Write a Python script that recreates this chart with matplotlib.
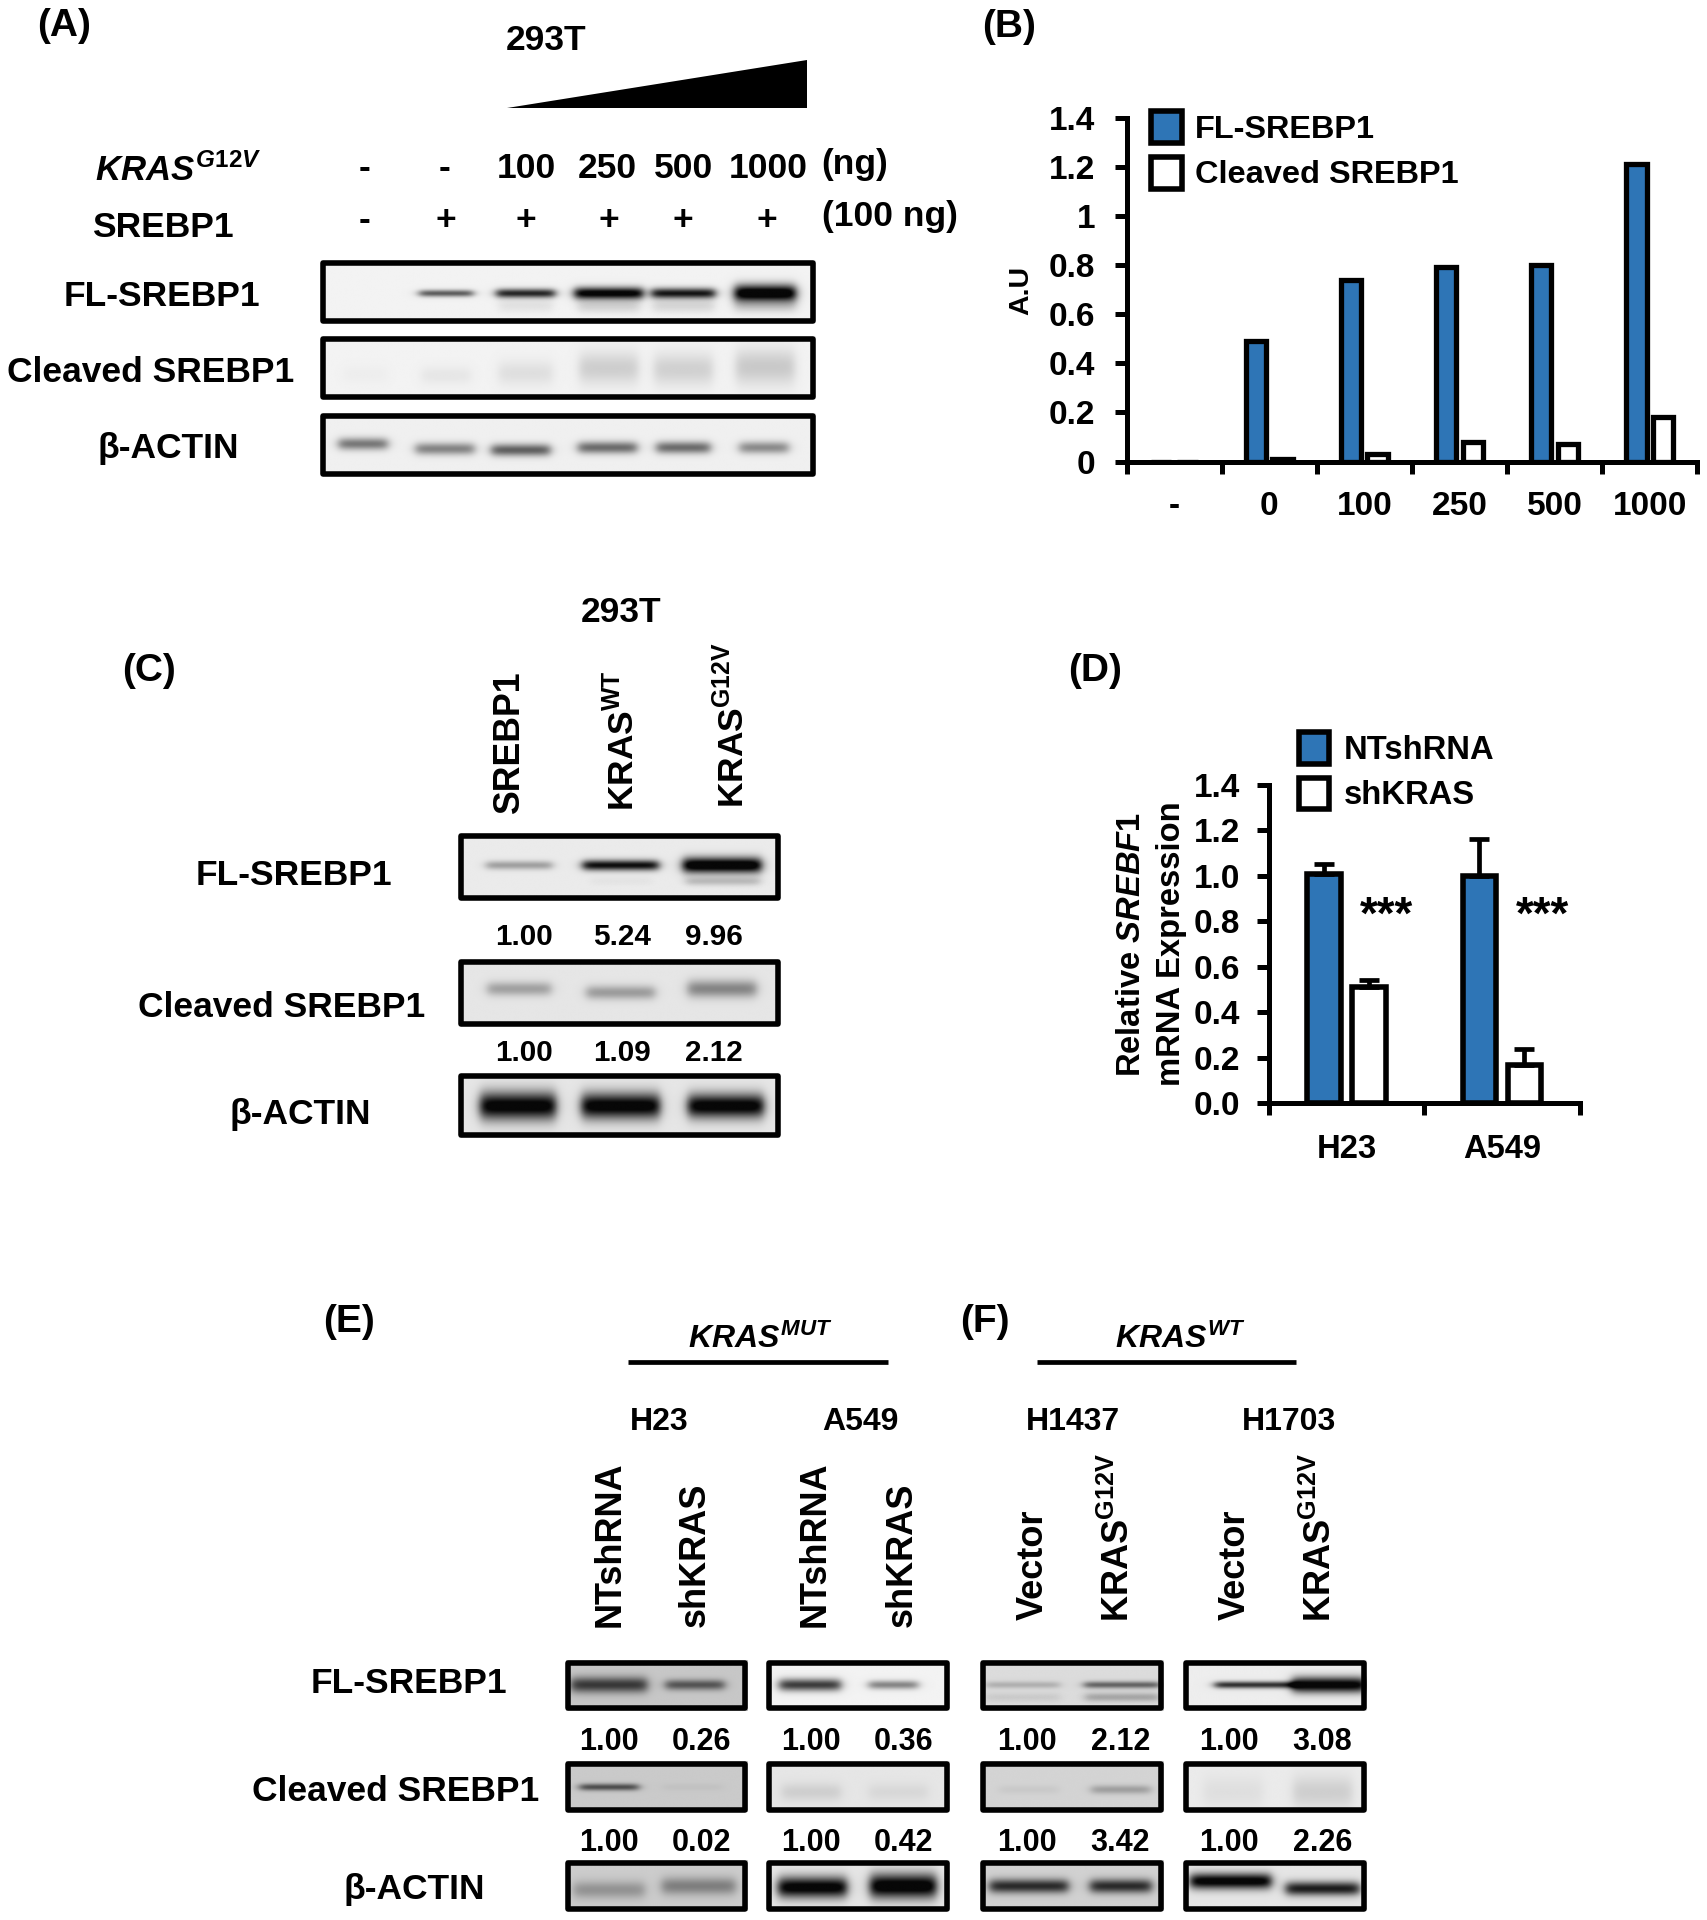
import matplotlib
matplotlib.use("Agg")
import matplotlib.pyplot as plt
import numpy as np
from matplotlib.patches import Polygon, Rectangle

plt.rcParams["font.family"] = ["Liberation Sans", "DejaVu Sans"]
plt.rcParams["font.weight"] = "bold"
plt.rcParams["mathtext.fontset"] = "custom"
plt.rcParams["mathtext.rm"] = "Liberation Sans:bold"
plt.rcParams["mathtext.it"] = "Liberation Sans:bold:italic"
plt.rcParams["mathtext.default"] = "regular"

BLUE = "#2e75b6"

# panel B
b_doses = ["-", "0", "100", "250", "500", "1000"]
b_fl = [0.0, 0.49, 0.74, 0.79, 0.80, 1.21]
b_cleaved = [0.0, 0.01, 0.03, 0.08, 0.07, 0.18]
b_yticks = [0, 0.2, 0.4, 0.6, 0.8, 1, 1.2, 1.4]

# panel D
d_lines = ["H23", "A549"]
d_nt = [1.01, 1.00]
d_sh = [0.51, 0.17]
d_nt_err = [0.04, 0.16]
d_sh_err = [0.03, 0.07]
d_yticks = [0.0, 0.2, 0.4, 0.6, 0.8, 1.0, 1.2, 1.4]

# blot band densities, one per lane
a_fl_density = [0.0, 0.62, 0.85, 1.05, 0.92, 1.15]
a_fl_lower = [0.0, 0.0, 0.07, 0.14, 0.12, 0.16]
a_cleaved_density = [0.02, 0.05, 0.08, 0.15, 0.14, 0.17]
a_actin_density = [0.5, 0.45, 0.6, 0.55, 0.55, 0.42]

c_fl_density = [0.32, 0.95, 1.15]
c_fl_lower = [0.0, 0.03, 0.2]
c_cleaved_density = [0.3, 0.32, 0.42]
c_actin_density = [1.05, 1.05, 1.05]

e_fl_density = [0.72, 0.58, 0.75, 0.45, 0.2, 0.55, 0.8, 1.05]
e_cleaved_density = [0.62, 0.04, 0.1, 0.06, 0.05, 0.25, 0.05, 0.12]
e_actin_density = [0.28, 0.38, 1.05, 1.1, 0.8, 0.8, 1.05, 0.88]

# printed ratios under the blots
c_fl_ratio = ["1.00", "5.24", "9.96"]
c_cleaved_ratio = ["1.00", "1.09", "2.12"]
e_fl_ratio = ["1.00", "0.26", "1.00", "0.36", "1.00", "2.12", "1.00", "3.08"]
e_cleaved_ratio = ["1.00", "0.02", "1.00", "0.42", "1.00", "3.42", "1.00", "2.26"]

fig = plt.figure(figsize=(17.07, 19.2), dpi=100)

# page axes in the coordinates of the 1394x1568 preview
ov = fig.add_axes([0, 0, 1, 1])
ov.set_axis_off()


def put(x, y, s, size=25.5, ha="center", va="center", **kw):
    # rotated text is placed by x, flat text by y: both sit a little high/left otherwise
    if kw.get("rotation"):
        x = x + 2
    else:
        y = y + 2
    return ov.text(x, y, s, fontsize=size, ha=ha, va=va, **kw)


def band_sum(xx, yy, xs, hw, density, cy, sy):
    dark = np.zeros_like(xx)
    for x, h, d, c, s in zip(*np.broadcast_arrays(xs, hw, density, cy, sy)):
        prof = 0.5 * (np.tanh((xx - x + h) / 4.5) - np.tanh((xx - x - h) / 4.5))
        dark += d * prof * np.exp(-0.5 * ((yy - c) / s) ** 2)
    return dark


def blot(x0, x1, y0, y1, bg, xs, hw, density, cy, sy):
    yy, xx = np.mgrid[y0:y1:200j, x0:x1:400j]
    img = np.clip(bg * (1 - band_sum(xx, yy, xs, hw, density, cy, sy)), 0.03, 1)
    ov.imshow(img, extent=(x0, x1, y1, y0), cmap="gray", vmin=0, vmax=1,
              aspect="auto", interpolation="bilinear")
    ov.add_patch(Rectangle((x0 + 1.8, y0 + 1.8), x1 - x0 - 3.6, y1 - y0 - 3.6, fill=False,
                           ec="black", lw=4.0, joinstyle="round"))


def add_bands(x0, x1, y0, y1, xs, hw, density, cy, sy):
    # faint secondary bands drawn over an existing blot
    yy, xx = np.mgrid[y0 + 4:y1 - 4:120j, x0 + 4:x1 - 4:400j]
    rgba = np.zeros(xx.shape + (4,))
    rgba[..., 3] = np.clip(band_sum(xx, yy, xs, hw, density, cy, sy), 0, 1)
    ov.imshow(rgba, extent=(x0 + 4, x1 - 4, y1 - 4, y0 + 4), aspect="auto",
              interpolation="bilinear")


# ---- panel A
put(52, 19, "(A)", size=28)
put(446, 31, "293T")
ov.add_patch(Polygon([(414, 88), (659, 88), (659, 49)], closed=True, fc="black", ec="none"))
put(146, 137, r"$\mathit{KRAS}^{\mathit{G12V}}$", size=25)
for x, s in zip([298, 363, 430, 496, 558, 627], ["-", "-", "100", "250", "500", "1000"]):
    put(x, 136, s)
put(698, 132, "(ng)")
put(133, 184, "SREBP1")
for x, s in zip([298, 364, 429, 497, 558, 626], ["-", "+", "+", "+", "+", "+"]):
    put(x, 178, s)
put(727, 175, "(100 ng)")
put(132, 240, "FL-SREBP1")
put(123, 302, "Cleaved SREBP1")
put(137, 364, r"β-ACTIN")

a_x = [298, 364, 429, 497, 558, 625]
blot(262, 666, 213, 264, 0.95, a_x, [20, 22, 24, 28, 26, 25], a_fl_density, 240, [2, 2, 2.6, 3.5, 3, 5])
add_bands(262, 666, 213, 264, a_x, [20, 20, 22, 25, 25, 25], a_fl_lower, 250, 4)
blot(262, 666, 275, 326, 0.95, a_x, [18, 20, 22, 24, 24, 24], a_cleaved_density,
     [306, 307, 305, 301, 302, 300], [5, 5, 7, 9, 9, 10])
blot(262, 666, 338, 389, 0.94, [296, 363, 425, 496, 558, 624], [20, 24, 24, 24, 22, 20], a_actin_density,
     [363, 367, 368, 366, 366, 366], [3.5, 3.5, 3.5, 3.5, 3.5, 3.5])

# ---- panel C
put(507, 498, "293T")
put(122, 546, "(C)", size=28)
put(414, 665, "SREBP1", va="bottom", rotation=90, size=25.7)
put(506, 662, r"$\mathrm{KRAS}^{\mathrm{WT}}$", va="bottom", rotation=90, size=25.5)
put(596, 660, r"$\mathrm{KRAS}^{\mathrm{G12V}}$", va="bottom", rotation=90, size=25.5)
put(240, 713, "FL-SREBP1")
put(230, 821, "Cleaved SREBP1")
put(245, 908, "β-ACTIN")
c_x = [424, 507, 590]
blot(375, 637, 681, 735, 0.92, c_x, [27, 31, 32], c_fl_density, 707, [2.5, 3, 4.5])
add_bands(375, 637, 681, 735, c_x, [27, 25, 30], c_fl_lower, 720, 2.5)
blot(375, 637, 784, 838, 0.9, c_x, [26, 28, 28], c_cleaved_density, [808, 811, 808], [4, 4, 5])
blot(375, 637, 877, 929, 0.9, [423, 507, 593], [31, 32, 31], c_actin_density, 903, [8, 7.5, 7])
for x, a, b in zip([428, 508, 583], c_fl_ratio, c_cleaved_ratio):
    put(x, 763, a, size=21.3)
    put(x, 858, b, size=21.3)

# ---- panel E and F
put(285, 1078, "(E)", size=28)
put(804, 1078, "(F)", size=28)
put(621, 1092, r"$\mathit{KRAS}^{\mathit{MUT}}$", size=23)
put(964, 1092, r"$\mathit{KRAS}^{\mathit{WT}}$", size=23)
ov.plot([513, 725], [1112, 1112], color="black", lw=3.4, solid_capstyle="butt")
ov.plot([847, 1058], [1112, 1112], color="black", lw=3.4, solid_capstyle="butt")
for x, s in zip([538, 703, 876, 1053], ["H23", "A549", "H1437", "H1703"]):
    put(x, 1159, s, size=23)
for x, s in zip([496, 566, 664, 735], ["NTshRNA", "shKRAS", "NTshRNA", "shKRAS"]):
    put(x, 1329, s, va="bottom", rotation=90, size=26)
for x in [842, 1007]:
    put(x, 1323, "Vector", va="bottom", rotation=90, size=26)
for x in [912, 1077]:
    put(x, 1325, r"$\mathrm{KRAS}^{\mathrm{G12V}}$", va="bottom", rotation=90, size=26)
put(334, 1373, "FL-SREBP1")
put(323, 1461, "Cleaved SREBP1")
put(338, 1541, "β-ACTIN")

e_cols = [(462, 610), (626, 775), (801, 950), (967, 1116)]
fl_bg = [0.78, 0.95, 0.86, 0.93]
cl_bg = [0.79, 0.9, 0.83, 0.92]
ac_bg = [0.8, 0.9, 0.82, 0.9]
fl_x = [[497, 567], [661, 729], [835, 916], [1025, 1085]]
cl_x = [[497, 565], [662, 733], [840, 915], [1007, 1080]]
ac_x = [[497, 570], [663, 737], [840, 915], [1005, 1080]]
fl_hw = [[31, 24], [25, 20], [30, 31], [33, 30]]
fl_cy = [1376, 1376, 1376, 1376]
fl_sy = [[4.5, 3], [3.5, 2.5], [2, 2], [2, 4.5]]
ac_hw = [[29, 30], [28, 27], [32, 25], [33, 30]]
ac_cy = [[1544, 1541], [1542, 1541], [1541, 1541], [1537, 1543]]
ac_sy = [[5, 5], [6, 7], [4, 4], [4.5, 4]]
for i, (x0, x1) in enumerate(e_cols):
    j = 2 * i
    blot(x0, x1, 1356, 1397, fl_bg[i], fl_x[i], fl_hw[i], e_fl_density[j:j + 2], fl_cy[i], fl_sy[i])
    blot(x0, x1, 1439, 1480, cl_bg[i], cl_x[i], [24, 24], e_cleaved_density[j:j + 2],
         [1460, 1464, 1462, 1464][i], [2, 5, 2.5, 9][i])
    blot(x0, x1, 1520, 1561, ac_bg[i], ac_x[i], ac_hw[i], e_actin_density[j:j + 2], ac_cy[i], ac_sy[i])
add_bands(801, 950, 1356, 1397, [835, 916], [30, 30], [0.08, 0.25], 1386, 2.5)

for x, a, b in zip([497, 573, 662, 738, 839, 915, 1004, 1080], e_fl_ratio, e_cleaved_ratio):
    put(x, 1421, a, size=22)
    put(x, 1503, b, size=22)

ov.set_xlim(0, 1394)
ov.set_ylim(1568, 0)


def chart_axes(left, right, top, bottom):
    ax = fig.add_axes([left / 1394, 1 - bottom / 1568, (right - left) / 1394, (bottom - top) / 1568])
    ax.patch.set_alpha(0)
    for side in ["top", "right"]:
        ax.spines[side].set_visible(False)
    for side in ["left", "bottom"]:
        ax.spines[side].set_linewidth(3.6)
    ax.tick_params(which="major", width=3.6, length=8.5, direction="out")
    return ax


# ---- panel B
put(824, 20, "(B)", size=28)
axb = chart_axes(920, 1386, 96, 377)
xb = np.arange(len(b_doses)) + 0.5
axb.bar(xb - 0.14, b_fl, 0.215, color=BLUE, edgecolor="black", linewidth=3.8)
axb.bar(xb + 0.14, b_cleaved, 0.215, color="white", edgecolor="black", linewidth=3.8)
axb.set_xlim(0, len(b_doses))
axb.set_ylim(0, 1.4)
axb.set_xticks(np.arange(len(b_doses) + 1))
axb.set_xticklabels([])
axb.set_xticks(xb, b_doses, minor=True, fontsize=24)
axb.tick_params(axis="x", which="minor", length=0, pad=21)
axb.set_yticks(b_yticks, ["0", "0.2", "0.4", "0.6", "0.8", "1", "1.2", "1.4"], fontsize=24)
axb.tick_params(axis="y", pad=14)
put(832, 237, "A.U", size=20.5, rotation=90)
for y, s, c in [(104, "FL-SREBP1", BLUE), (141, "Cleaved SREBP1", "white")]:
    ov.add_patch(Rectangle((940, y - 13), 25, 26, fc=c, ec="black", lw=4.0))
    put(976, y, s, size=23.4, ha="left")

# ---- panel D
put(894, 546, "(D)", size=28)
axd = chart_axes(1036, 1290, 641, 901)
xd = np.arange(len(d_lines)) + 0.5
axd.bar(xd - 0.145, d_nt, 0.215, color=BLUE, edgecolor="black", linewidth=4.0)
axd.bar(xd + 0.145, d_sh, 0.215, color="white", edgecolor="black", linewidth=4.0)
axd.errorbar(xd - 0.145, d_nt, yerr=[np.zeros(2), d_nt_err], fmt="none", ecolor="black",
             elinewidth=3.4, capsize=7, capthick=3.4)
axd.errorbar(xd + 0.145, d_sh, yerr=[np.zeros(2), d_sh_err], fmt="none", ecolor="black",
             elinewidth=3.4, capsize=7, capthick=3.4)
axd.set_xlim(0, len(d_lines))
axd.set_ylim(0, 1.4)
axd.set_xticks(np.arange(len(d_lines) + 1))
axd.set_xticklabels([])
axd.set_xticks(xd, d_lines, minor=True, fontsize=23.6)
axd.tick_params(axis="x", which="minor", length=0, pad=22)
axd.set_yticks(d_yticks, [f"{v:.1f}" for v in d_yticks], fontsize=24)
axd.tick_params(axis="y", pad=12)
for x in xd:
    axd.text(x + 0.26, 0.82, "***", fontsize=33, ha="center", va="center")
put(922, 771, r"Relative $\mathit{SREBF1}$", size=23.6, rotation=90)
put(955, 771, "mRNA Expression", size=23.6, rotation=90)
for y, s, c in [(611, "NTshRNA", BLUE), (648, "shKRAS", "white")]:
    ov.add_patch(Rectangle((1060.5, y - 13), 25, 26, fc=c, ec="black", lw=4.0))
    put(1097, y, s, size=23.6, ha="left")

fig.savefig("out.png", dpi=100)
